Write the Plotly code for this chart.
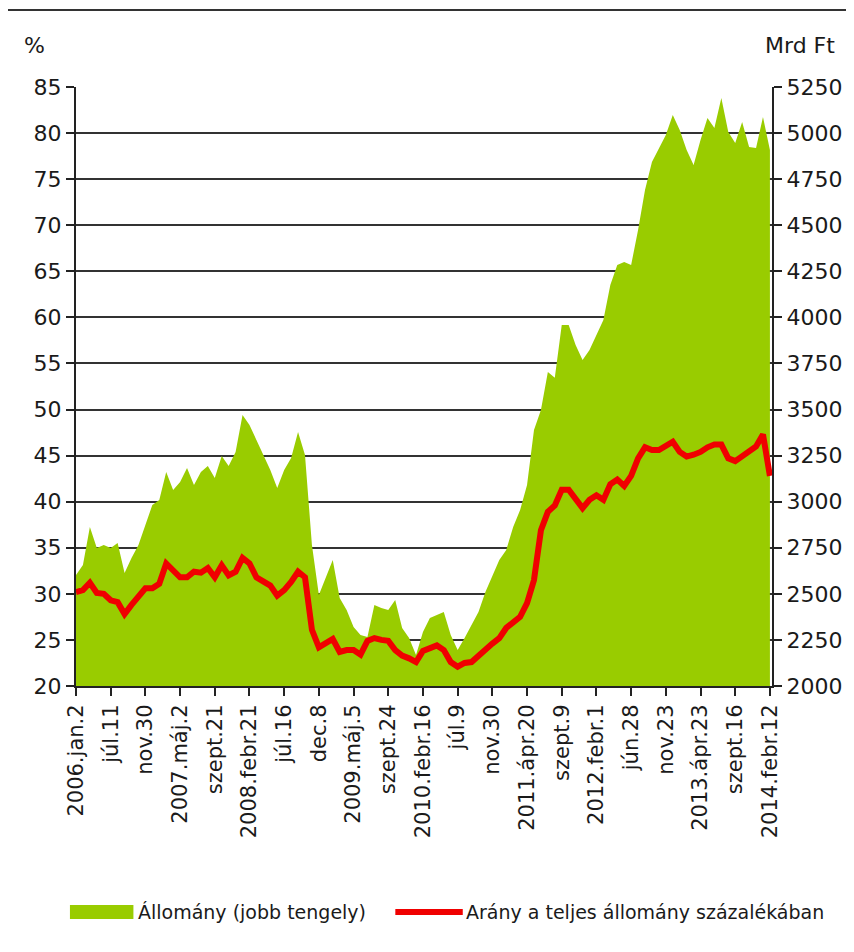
import plotly.graph_objects as go

# Category tick labels (every 10 index units)
tick_labels = ["2006.jan.2", "júl.11", "nov.30", "2007.máj.2", "szept.21", "2008.febr.21",
               "júl.16", "dec.8", "2009.máj.5", "szept.24", "2010.febr.16", "júl.9",
               "nov.30", "2011.ápr.20", "szept.9", "2012.febr.1", "jún.28", "nov.23",
               "2013.ápr.23", "szept.16", "2014.febr.12"]

# Állomány (Mrd Ft), sampled every 2 index units
allomany = [2602, 2657, 2863, 2749, 2765, 2749, 2776, 2613, 2695, 2765,
            2874, 2982, 3009, 3161, 3063, 3107, 3183, 3091, 3161, 3194,
            3129, 3248, 3194, 3270, 3470, 3416, 3335, 3253, 3172, 3074,
            3172, 3237, 3378, 3253, 2765, 2494, 2586, 2684, 2477, 2412,
            2320, 2277, 2266, 2440, 2423, 2412, 2467, 2315, 2260, 2168,
            2293, 2369, 2385, 2401, 2277, 2195, 2260, 2331, 2401, 2510,
            2602, 2684, 2738, 2863, 2955, 3091, 3389, 3498, 3704, 3672,
            3959, 3959, 3850, 3769, 3823, 3904, 3986, 4176, 4284, 4300,
            4284, 4474, 4691, 4843, 4919, 4990, 5098, 5017, 4908, 4827,
            4962, 5082, 5028, 5190, 5006, 4946, 5060, 4925, 4919, 5087,
            4908]

# Arány a teljes állomány százalékában (%)
arany = [30.2, 30.4, 31.2, 30.1, 30.0, 29.3, 29.1, 27.8, 28.8, 29.8,
         30.6, 30.6, 31.1, 33.3, 32.6, 31.8, 31.8, 32.4, 32.3, 32.8,
         31.8, 33.1, 32.0, 32.4, 33.9, 33.3, 31.8, 31.4, 30.9, 29.8,
         30.4, 31.3, 32.4, 31.8, 26.1, 24.2, 24.7, 25.1, 23.7, 23.9,
         23.9, 23.4, 24.9, 25.2, 25.0, 24.9, 23.9, 23.3, 23.0, 22.6,
         23.8, 24.1, 24.4, 23.9, 22.6, 22.1, 22.5, 22.6, 23.3, 24.1,
         24.6, 25.2, 26.3, 26.9, 27.5, 29.0, 31.5, 36.9, 38.9, 39.6,
         41.3, 41.3, 40.2, 39.3, 40.2, 40.7, 40.2, 41.9, 42.4, 41.7,
         42.8, 44.7, 45.9, 45.6, 45.6, 46.0, 46.5, 45.4, 44.9, 45.1,
         45.4, 45.9, 46.2, 46.2, 44.7, 44.4, 44.9, 45.5, 46.0, 47.3,
         42.8]

series_names = ["Állomány (jobb tengely)", "Arány a teljes állomány százalékában"]

x = [2 * i for i in range(len(allomany))]
tickvals = [10 * i for i in range(len(tick_labels))]

FONT = "DejaVu Sans"
GREEN = "#99cc00"
RED = "#f00000"
INK = "#1a1a1a"

fig = go.Figure()
fig.add_trace(go.Scatter(
    x=x, y=allomany, name=series_names[0], yaxis="y",
    mode="lines", line=dict(width=0, color=GREEN), fill="tozeroy",
    fillcolor=GREEN, showlegend=False))
fig.add_trace(go.Scatter(
    x=x, y=arany, name=series_names[1], yaxis="y2",
    mode="lines", line=dict(width=6, color=RED), showlegend=False))

axis_common = dict(ticks="outside", ticklen=8, tickwidth=1.5, tickcolor="#222",
                   showline=True, linecolor="#222", linewidth=2, zeroline=False)

fig.update_layout(
    width=846, height=944,
    margin=dict(l=68, r=79, t=79, b=266),
    paper_bgcolor="white", plot_bgcolor="white",
    font=dict(family=FONT, size=22, color=INK),
    showlegend=False,
    xaxis=dict(range=[0, 200.6], tickmode="array", tickvals=tickvals, ticktext=tick_labels,
               tickangle=-90, showgrid=False, tickfont=dict(size=21), **axis_common),
    yaxis=dict(range=[2000, 5250], dtick=250, tick0=2000, side="right",
               showgrid=True, gridcolor="#333", gridwidth=1.5, **axis_common),
    yaxis2=dict(range=[20, 85], dtick=5, tick0=20, side="left", overlaying="y",
                showgrid=False, **axis_common),
)

# top rule
fig.add_shape(type="line", xref="paper", yref="paper", x0=-0.11, x1=1.13,
              y0=1.1285, y1=1.1285, line=dict(color="#333", width=2))
# axis unit labels
fig.add_annotation(text="%", xref="paper", yref="paper", x=-0.06, y=1.07,
                   showarrow=False, xanchor="center", yanchor="middle",
                   font=dict(size=22, family=FONT))
fig.add_annotation(text="Mrd Ft", xref="paper", yref="paper", x=1.04, y=1.07,
                   showarrow=False, xanchor="center", yanchor="middle",
                   font=dict(size=22, family=FONT))

# legend (drawn manually to match the wide swatches)
fig.add_shape(type="rect", xref="paper", yref="paper", x0=-0.0087, x1=0.0825,
              y0=-0.389, y1=-0.3656, fillcolor=GREEN, line=dict(width=0))
fig.add_annotation(text=series_names[0], xref="paper", yref="paper", x=0.086, y=-0.3773,
                   showarrow=False, xanchor="left", yanchor="middle",
                   font=dict(size=19, family=FONT, color=INK))
fig.add_shape(type="line", xref="paper", yref="paper", x0=0.4588, x1=0.5557,
              y0=-0.3773, y1=-0.3773, line=dict(color=RED, width=6))
fig.add_annotation(text=series_names[1], xref="paper", yref="paper", x=0.557, y=-0.3773,
                   showarrow=False, xanchor="left", yanchor="middle",
                   font=dict(size=19, family=FONT, color=INK))

fig.write_html("out.html")
